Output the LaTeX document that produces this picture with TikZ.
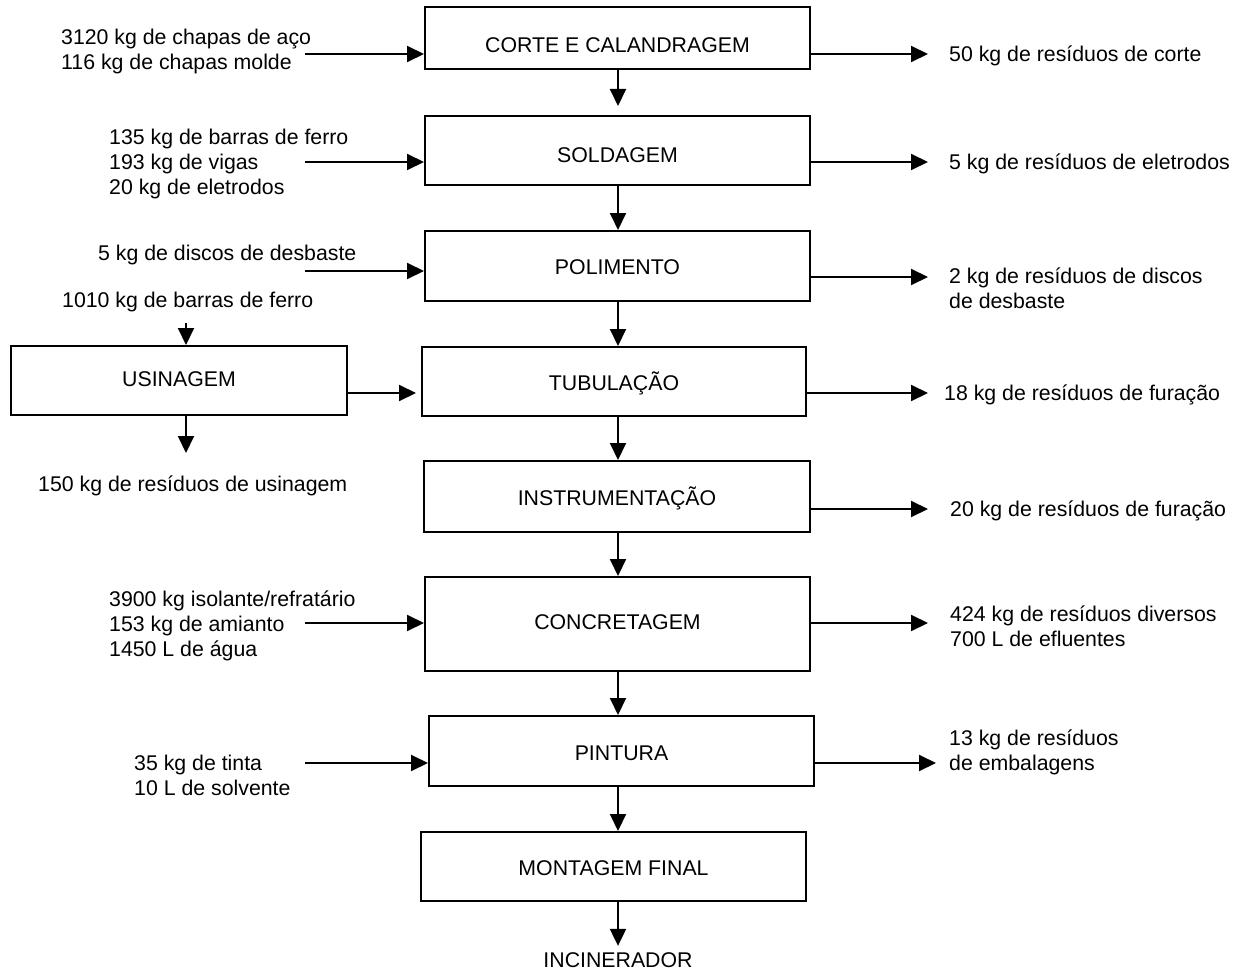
\documentclass[tikz,border=0pt]{standalone}
\usepackage{fontspec}
\setmainfont{Liberation Sans}
\usetikzlibrary{arrows.meta}
\begin{document}
\begin{tikzpicture}[x=1pt,y=-1pt,
  every node/.style={font=\fontsize{21.3}{25}\selectfont},
  procbox/.style={draw,line width=2pt,inner sep=0pt,text depth=0pt},
  lbl/.style={inner sep=0pt,anchor=base west,align=left},
  arr/.style={line width=2pt,-{Triangle[length=17pt,width=16pt]}}]
\useasboundingbox (0,0) rectangle (1239,971);

% process boxes
\node[procbox,minimum width=385,minimum height=62,text height=28.7pt] (corte) at (617.5,38) {CORTE E CALANDRAGEM};
\node[procbox,minimum width=385,minimum height=69,text height=23.7pt] (sold) at (617.5,150.5) {SOLDAGEM};
\node[procbox,minimum width=385,minimum height=70,text height=16.7pt] (polim) at (617.5,266) {POLIMENTO};
\node[procbox,minimum width=384,minimum height=69,text height=17.7pt] (tub) at (614,381.5) {TUBULAÇÃO};
\node[procbox,minimum width=386,minimum height=71,text height=17.7pt] (instr) at (617,496.5) {INSTRUMENTAÇÃO};
\node[procbox,minimum width=385,minimum height=94,text height=14.7pt,text depth=4pt] (concr) at (617.5,624) {CONCRETAGEM};
\node[procbox,minimum width=385,minimum height=70,text height=18.7pt] (pint) at (621.5,751) {PINTURA};
\node[procbox,minimum width=385,minimum height=69,text height=17.7pt] (mont) at (613.5,866.5) {MONTAGEM FINAL};
\node[procbox,minimum width=336,minimum height=69,text height=14.7pt,text depth=3pt] (usin) at (179,380.5) {USINAGEM};
\node[inner sep=0pt,text height=14.7pt,text depth=0pt] (incin) at (618,960) {INCINERADOR};

% input labels (anchored at the baseline of the last line)
\node[lbl] (i1) at (61,69.3) {3120 kg de chapas de aço\\116 kg de chapas molde};
\node[lbl] (i2) at (109,194.3) {135 kg de barras de ferro\\193 kg de vigas\\20 kg de eletrodos};
\node[lbl] (i3) at (98,260.3) {5 kg de discos de desbaste};
\node[lbl] (i4) at (62,307.3) {1010 kg de barras de ferro};
\node[lbl] (o9) at (38,491.3) {150 kg de resíduos de usinagem};
\node[lbl] (i6) at (109,656.3) {3900 kg isolante/refratário\\153 kg de amianto\\1450 L de água};
\node[lbl] (i7) at (134,795.3) {35 kg de tinta\\10 L de solvente};

% output labels
\node[lbl] (o1) at (949,61.3) {50 kg de resíduos de corte};
\node[lbl] (o2) at (949,169.3) {5 kg de resíduos de eletrodos};
\node[lbl] (o3) at (949,308.3) {2 kg de resíduos de discos\\de desbaste};
\node[lbl] (o4) at (944,400.3) {18 kg de resíduos de furação};
\node[lbl] (o5) at (950,516.3) {20 kg de resíduos de furação};
\node[lbl] (o6) at (950,646.3) {424 kg de resíduos diversos\\700 L de efluentes};
\node[lbl] (o7) at (949,770.3) {13 kg de resíduos\\de embalagens};

% arrow anchor coordinates
\coordinate (ax) at (618,0);
\coordinate (ia1) at (305,54);
\coordinate (ia2) at (305,162);
\coordinate (ia3) at (305,271);
\coordinate (ia6) at (305,623);
\coordinate (ia7) at (305,763);
\coordinate (oa1) at (928,54);
\coordinate (oa2) at (928,162);
\coordinate (oa3) at (928,277);
\coordinate (oa4) at (928,393);
\coordinate (oa5) at (928,509);
\coordinate (oa6) at (928,623);
\coordinate (oa7) at (936,763);
\coordinate (ua) at (186,323);
\coordinate (ub) at (186,453);
\coordinate (uc) at (347,393);

% main vertical flow
\draw[arr,shorten >=9pt] (corte.south -| ax) -- (sold.north -| ax);
\draw[arr] (sold.south -| ax) -- (polim.north -| ax);
\draw[arr] (polim.south -| ax) -- (tub.north -| ax);
\draw[arr] (tub.south -| ax) -- (instr.north -| ax);
\draw[arr] (instr.south -| ax) -- (concr.north -| ax);
\draw[arr] (concr.south -| ax) -- (pint.north -| ax);
\draw[arr] (pint.south -| ax) -- (mont.north -| ax);
\draw[arr,shorten >=6.6pt] (mont.south -| ax) -- (incin.north);

% inputs
\draw[arr] (ia1) -- (corte.west |- ia1);
\draw[arr] (ia2) -- (sold.west |- ia2);
\draw[arr] (ia3) -- (polim.west |- ia3);
\draw[arr] (ia6) -- (concr.west |- ia6);
\draw[arr] (ia7) -- (pint.west |- ia7);

% outputs
\draw[arr] (corte.east |- oa1) -- (oa1);
\draw[arr] (sold.east |- oa2) -- (oa2);
\draw[arr] (polim.east |- oa3) -- (oa3);
\draw[arr] (tub.east |- oa4) -- (oa4);
\draw[arr] (instr.east |- oa5) -- (oa5);
\draw[arr] (concr.east |- oa6) -- (oa6);
\draw[arr] (pint.east |- oa7) -- (oa7);

% usinagem branch
\draw[arr] (ua) -- (usin.north -| ua);
\draw[arr] (usin.south -| ub) -- (ub);
\draw[arr,shorten >=5pt] (uc) -- (tub.west |- uc);
\end{tikzpicture}
\end{document}
